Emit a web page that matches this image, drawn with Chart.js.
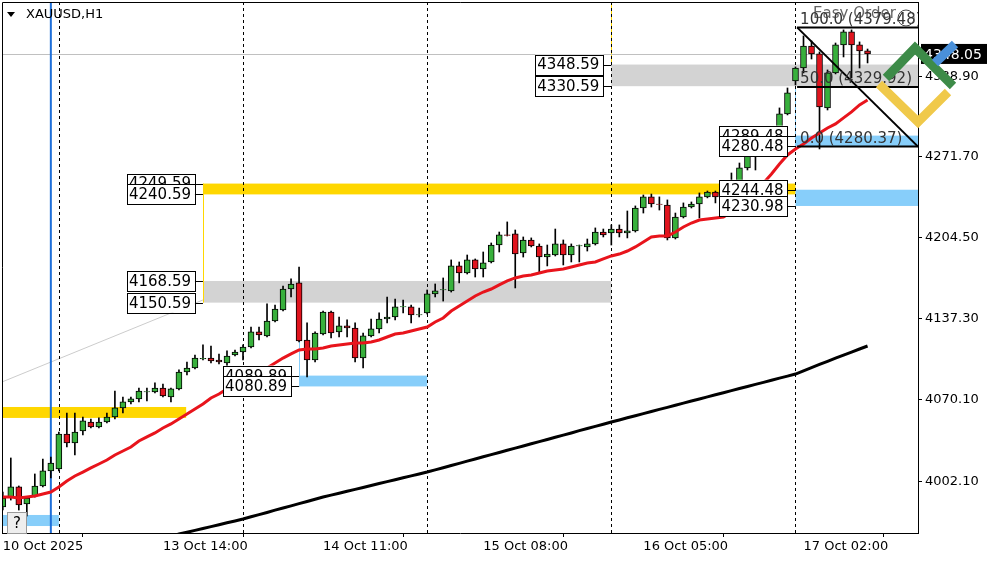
<!DOCTYPE html>
<html>
<head>
<meta charset="utf-8">
<script src="https://cdn.jsdelivr.net/npm/chart.js@4"></script>
<style>
  html, body { margin: 0; padding: 0; background: #fff; }
  #wrap { width: 1000px; height: 562px; position: relative; }
</style>
</head>
<body>
<div id="wrap"><canvas id="c"></canvas></div>
<script>
// XAUUSD H1 candles, bar index 0..108
const opens  = [3980.6,3988.9,3997.3,3983.1,3989.8,3998.1,4010.6,4012.2,4041.3,4033.9,4043.8,4051.3,4047.2,4051.3,4055.5,4063.0,4068.0,4070.5,4076.3,4076.3,
  4079.6,4072.1,4078.8,4092.9,4096.2,4103.7,4104.5,4102.9,4100.4,4107.0,4109.5,4113.7,4126.2,4122.9,4135.3,4144.5,4161.9,4167.0,4119.5,4102.9,
  4124.5,4142.8,4126.2,4131.2,4129.5,4104.5,4122.9,4128.7,4137.0,4138.6,4147.0,4147.0,4140.3,4142.0,4157.8,4161.1,4160.3,4181.1,4175.2,4186.1,
  4178.6,4184.4,4198.5,4206.9,4207.7,4191.9,4202.7,4197.7,4188.5,4190.2,4199.4,4190.2,4197.7,4196.9,4199.4,4209.3,4208.5,4211.8,4208.5,4210.2,
  4229.3,4238.5,4232.6,4231.8,4204.4,4221.8,4230.1,4232.6,4238.5,4242.6,4234.3,4234.3,4245.1,4262.6,4273.4,4282.5,4292.5,4288.4,4307.5,4334.9,
  4345.7,4364.0,4357.4,4312.5,4341.6,4364.9,4375.7,4364.9,4359.9];
const highs  = [3993.1,4021.4,3998.1,3988.9,4008.1,4020.5,4022.2,4043.0,4058.8,4058.8,4055.5,4053.8,4054.7,4058.8,4077.1,4072.1,4072.1,4079.6,4079.6,4083.8,
  4082.9,4079.6,4094.6,4101.2,4107.0,4115.4,4114.5,4107.9,4110.4,4111.2,4115.4,4130.3,4130.3,4149.5,4148.6,4164.4,4170.3,4180.2,4133.7,4126.2,
  4143.6,4143.6,4138.6,4136.2,4133.7,4125.3,4137.0,4142.0,4155.3,4153.6,4152.8,4148.6,4146.1,4161.1,4166.1,4171.1,4186.1,4184.4,4190.2,4186.9,
  4192.7,4200.2,4209.3,4217.7,4211.0,4205.2,4204.4,4199.4,4198.5,4211.8,4202.7,4199.4,4198.5,4203.5,4212.7,4211.8,4215.2,4215.2,4226.8,4231.0,
  4240.1,4240.9,4238.5,4236.0,4225.1,4233.5,4234.3,4241.8,4243.4,4243.4,4244.3,4258.4,4266.7,4275.9,4285.9,4295.8,4293.3,4312.5,4329.1,4346.6,
  4372.4,4368.2,4359.1,4344.1,4366.5,4377.4,4377.4,4367.4,4361.5];
const lows   = [3978.1,3986.4,3978.1,3973.1,3988.9,3997.3,4004.8,4010.6,4030.5,4023.9,4040.5,4046.4,4046.4,4050.5,4053.8,4058.8,4066.3,4068.0,4068.8,4075.4,
  4072.1,4068.0,4078.0,4090.4,4095.4,4102.9,4100.4,4099.6,4097.1,4106.2,4102.9,4112.9,4119.5,4122.0,4134.5,4143.6,4155.3,4118.0,4088.7,4101.2,
  4123.7,4121.2,4122.0,4122.0,4101.2,4096.2,4122.0,4125.3,4133.7,4136.2,4142.0,4133.7,4138.6,4141.1,4155.3,4151.9,4159.4,4167.0,4174.4,4171.9,
  4171.9,4183.6,4192.7,4206.0,4162.8,4188.5,4196.9,4176.1,4181.1,4189.4,4181.9,4184.4,4184.4,4193.5,4198.5,4205.2,4198.5,4205.2,4204.4,4209.3,
  4225.1,4230.1,4227.6,4202.7,4203.5,4221.0,4229.3,4221.0,4237.7,4233.5,4231.8,4233.5,4244.3,4260.9,4260.9,4281.7,4285.9,4287.5,4306.7,4331.6,
  4341.6,4353.2,4278.4,4310.8,4340.8,4354.9,4337.4,4345.7,4349.9];
const closes = [3988.1,3997.3,3982.3,3988.1,3998.1,4010.6,4017.2,4041.3,4033.9,4043.0,4052.2,4047.2,4051.3,4055.5,4063.0,4068.0,4070.5,4077.1,4076.7,4079.6,
  4073.0,4078.8,4092.9,4096.2,4104.5,4104.2,4102.1,4101.2,4106.2,4109.5,4113.7,4126.2,4123.7,4135.3,4145.3,4161.9,4166.1,4118.7,4102.9,4125.3,
  4142.8,4125.3,4131.2,4129.5,4104.5,4122.9,4128.7,4137.0,4138.6,4147.0,4147.4,4140.3,4140.7,4157.8,4160.3,4161.5,4181.1,4175.2,4186.1,4178.6,
  4183.6,4198.5,4206.9,4206.5,4191.0,4202.7,4197.7,4188.5,4191.0,4199.4,4190.2,4197.7,4198.0,4199.4,4209.3,4206.9,4211.8,4208.5,4210.2,4229.3,
  4238.5,4232.6,4232.2,4204.4,4221.8,4230.1,4232.6,4238.5,4242.6,4238.5,4241.8,4245.1,4262.6,4273.4,4282.5,4292.5,4288.4,4307.5,4325.0,4345.7,
  4364.0,4357.4,4313.3,4341.6,4364.9,4375.7,4364.9,4359.9,4357.4];

// fast moving average (red), one value per bar
const maFast = [3988.9,3988.9,3988.1,3988.9,3989.8,3991.4,3993.1,3997.3,4002.3,4006.4,4009.7,4013.1,4016.4,4019.7,4023.9,4027.2,4030.5,4035.5,4038.9,4042.2,
  4046.3,4049.7,4053.8,4058.0,4062.1,4066.3,4071.3,4074.6,4078.8,4081.3,4082.1,4087.9,4092.1,4096.2,4100.4,4104.5,4107.9,4111.2,4112.0,4112.0,
  4112.9,4114.5,4115.4,4116.2,4117.0,4117.0,4117.9,4119.5,4122.0,4124.5,4125.3,4127.0,4128.7,4130.3,4134.5,4137.8,4143.6,4147.8,4151.9,4156.1,
  4159.4,4161.9,4165.3,4168.6,4171.1,4172.7,4173.6,4175.2,4176.9,4177.7,4178.6,4180.2,4181.9,4183.6,4184.4,4186.9,4189.4,4191.0,4193.5,4196.9,
  4201.0,4205.2,4206.0,4206.0,4209.3,4213.5,4216.8,4219.3,4220.2,4221.0,4221.8,4226.0,4231.0,4236.0,4242.6,4250.1,4257.6,4265.9,4273.4,4278.4,
  4282.5,4287.5,4291.7,4295.8,4299.2,4304.2,4309.2,4315.0,4319.1];
// slow moving average (black), starts at bar 21
const maSlowStart = 21;
const maSlow = [3956.5,3958.1,3959.6,3961.2,3962.8,3964.3,3965.9,3967.5,3969.0,3970.6,3972.5,3974.3,3976.1,3978.0,3979.8,3981.6,3983.4,3985.2,3987.1,3988.9,
  3990.5,3992.1,3993.7,3995.3,3996.9,3998.5,4000.1,4001.7,4003.3,4004.9,4006.5,4008.1,4009.7,4011.5,4013.3,4015.1,4016.9,4018.8,4020.6,4022.4,
  4024.2,4026.0,4027.8,4029.6,4031.4,4033.2,4035.0,4036.8,4038.6,4040.4,4042.2,4044.1,4045.9,4047.7,4049.5,4051.3,4053.0,4054.8,4056.5,4058.3,
  4060.0,4061.8,4063.5,4065.3,4067.0,4068.8,4070.5,4072.2,4074.0,4075.7,4077.4,4079.2,4080.9,4082.6,4084.3,4086.0,4087.8,4089.5,4091.2,4093.9,
  4096.5,4099.2,4101.8,4104.5,4107.0,4109.5,4112.0,4114.5];

const priceTicks = [4002.10, 4070.10, 4137.30, 4204.50, 4271.70, 4338.90];
const timeTickBars = [0, 20, 40, 60, 80, 100];
const timeTickLabels = ['10 Oct 2025', '13 Oct 14:00', '14 Oct 11:00', '15 Oct 08:00', '16 Oct 05:00', '17 Oct 02:00'];
const daySeparators = [7, 30, 53, 76, 99];
const lastBar = 114.3;
const currentPrice = 4357.4;
const currentPriceText = '4348.05';

// zones: bar range and price range
const zones = [
  { from: -0.1, to: 22.9, top: 4063.8, bottom: 4054.7, color: '#ffd700' },
  { from: -0.1, to: 7,    top: 3974.0, bottom: 3964.8, color: '#87cefa' },
  { from: 25,   to: 99,   top: 4249.59, bottom: 4240.59, color: '#ffd700' },
  { from: 25,   to: 76,   top: 4168.59, bottom: 4150.59, color: '#d3d3d3' },
  { from: 37,   to: 53,   top: 4089.89, bottom: 4080.89, color: '#87cefa' },
  { from: 76,   to: lastBar, top: 4348.59, bottom: 4330.59, color: '#d3d3d3' },
  { from: 99,   to: lastBar, top: 4244.48, bottom: 4230.98, color: '#87cefa' },
  { from: 99,   to: lastBar, top: 4289.48, bottom: 4280.48, color: '#87cefa' }
];
// price boxes: text, price, bar where the box ends
const priceBoxes = [
  { text: '4249.59', price: 4249.59, bar: 24 }, { text: '4240.59', price: 4240.59, bar: 24 },
  { text: '4168.59', price: 4168.59, bar: 24 }, { text: '4150.59', price: 4150.59, bar: 24 },
  { text: '4089.89', price: 4089.89, bar: 36 }, { text: '4080.89', price: 4080.89, bar: 36 },
  { text: '4348.59', price: 4348.59, bar: 75 }, { text: '4330.59', price: 4330.59, bar: 75 },
  { text: '4289.48', price: 4289.48, bar: 98 }, { text: '4280.48', price: 4280.48, bar: 98 },
  { text: '4244.48', price: 4244.48, bar: 98 }, { text: '4230.98', price: 4230.98, bar: 98 }
];
const fibFrom = 99.2;
const fibLevels = [
  { text: '100.0 (4379.48)', price: 4379.48 },
  { text: '50.0 (4329.92)', price: 4329.92 },
  { text: '0.0 (4280.37)', price: 4280.37 }
];

const bars = opens.map((o, i) => i);
const up = i => closes[i] >= opens[i];

const overlays = {
  id: 'overlays',
  beforeDatasetsDraw(chart) {
    const { ctx, chartArea: a, scales: { x, y } } = chart;
    ctx.save();
    ctx.beginPath(); ctx.rect(a.left, a.top, a.width, a.height); ctx.clip();
    zones.forEach(z => {
      ctx.fillStyle = z.color;
      const x0 = x.getPixelForValue(z.from), x1 = x.getPixelForValue(z.to);
      const y0 = y.getPixelForValue(z.top), y1 = y.getPixelForValue(z.bottom);
      ctx.fillRect(x0, y0, x1 - x0, y1 - y0);
    });
    // vertical connectors
    const vline = (bar, p0, p1, color, w) => {
      ctx.strokeStyle = color; ctx.lineWidth = w || 1;
      ctx.beginPath();
      const xx = Math.round(x.getPixelForValue(bar)) + 0.5;
      ctx.moveTo(xx, y.getPixelForValue(p0)); ctx.lineTo(xx, y.getPixelForValue(p1)); ctx.stroke();
    };
    vline(25, 4249.59, 4150.59, '#ffd700');
    vline(76, 4410, 4348.59, '#ffd700');
    vline(37, 4118, 4080.89, '#87cefa');
    vline(99, 4330, 4280.48, '#87cefa');
    // light gray trendline
    ctx.strokeStyle = '#cccccc'; ctx.lineWidth = 1;
    ctx.beginPath();
    ctx.moveTo(x.getPixelForValue(-0.1), y.getPixelForValue(4084.6));
    ctx.lineTo(x.getPixelForValue(25), y.getPixelForValue(4152.8));
    ctx.stroke();
    // current price line
    ctx.strokeStyle = '#c0c0c0';
    const yc = Math.round(y.getPixelForValue(currentPrice)) + 0.5;
    ctx.beginPath(); ctx.moveTo(a.left, yc); ctx.lineTo(a.right, yc); ctx.stroke();
    // day separators
    ctx.strokeStyle = '#000'; ctx.setLineDash([3, 3]);
    daySeparators.forEach(b => {
      const xx = Math.round(x.getPixelForValue(b)) + 0.5;
      ctx.beginPath(); ctx.moveTo(xx, a.top); ctx.lineTo(xx, a.bottom); ctx.stroke();
    });
    ctx.setLineDash([]);
    // blue vertical line
    ctx.strokeStyle = '#1e6fd9'; ctx.lineWidth = 2;
    const xb = x.getPixelForValue(6);
    ctx.beginPath(); ctx.moveTo(xb, a.top); ctx.lineTo(xb, a.bottom); ctx.stroke();
    ctx.restore();
  },
  afterDatasetsDraw(chart) {
    const { ctx, chartArea: a, scales: { x, y } } = chart;
    ctx.save();
    ctx.font = '15px "DejaVu Sans"';
    ctx.textBaseline = 'middle';
    priceBoxes.forEach(b => {
      const xr = x.getPixelForValue(b.bar), yy = y.getPixelForValue(b.price);
      const w = 68, h = 20;
      ctx.fillStyle = '#fff';
      ctx.fillRect(xr - w, yy - h / 2, w, h);
      ctx.strokeStyle = '#000'; ctx.lineWidth = 1;
      ctx.strokeRect(Math.round(xr - w) + 0.5, Math.round(yy - h / 2) + 0.5, w, h);
      ctx.beginPath(); ctx.moveTo(xr, Math.round(yy) + 0.5); ctx.lineTo(xr + 8, Math.round(yy) + 0.5); ctx.stroke();
      ctx.fillStyle = '#000'; ctx.textAlign = 'left';
      ctx.fillText(b.text, xr - w + 2, yy + 1);
    });
    // fibonacci
    ctx.save();
    ctx.beginPath(); ctx.rect(a.left, a.top, a.width, a.height); ctx.clip();
    const fx0 = x.getPixelForValue(fibFrom);
    ctx.strokeStyle = '#000'; ctx.lineWidth = 2;
    fibLevels.forEach(l => {
      const yy = y.getPixelForValue(l.price);
      ctx.beginPath(); ctx.moveTo(fx0, yy); ctx.lineTo(a.right, yy); ctx.stroke();
    });
    ctx.beginPath();
    ctx.moveTo(fx0, y.getPixelForValue(fibLevels[0].price));
    ctx.lineTo(a.right, y.getPixelForValue(fibLevels[2].price));
    ctx.stroke();
    ctx.fillStyle = '#333'; ctx.textAlign = 'left'; ctx.textBaseline = 'bottom';
    ctx.font = '15px "DejaVu Sans"';
    fibLevels.forEach(l => ctx.fillText(l.text, fx0 + 3, y.getPixelForValue(l.price)));
    ctx.fillStyle = 'rgba(60,60,60,0.8)'; ctx.textBaseline = 'top';
    ctx.fillText('Easy Order', fx0 + 16, a.top + 5);
    ctx.beginPath(); ctx.arc(a.right - 12, a.top + 16, 8, 0, Math.PI * 2); ctx.lineWidth = 1; ctx.strokeStyle = '#444'; ctx.stroke();
    ctx.restore();
    // current price tag
    const yc = y.getPixelForValue(currentPrice);
    ctx.fillStyle = '#000';
    ctx.fillRect(a.right + 3, yc - 10, 66, 20);
    ctx.fillStyle = '#fff'; ctx.font = '14px "DejaVu Sans"'; ctx.textAlign = 'left'; ctx.textBaseline = 'middle';
    ctx.fillText(currentPriceText, a.right + 6, yc + 1);
    // logo
    ctx.lineCap = 'butt'; ctx.lineWidth = 9;
    ctx.strokeStyle = '#f0c94a';
    ctx.beginPath(); ctx.moveTo(879, 84); ctx.lineTo(918, 122); ctx.lineTo(948, 92); ctx.stroke();
    ctx.strokeStyle = '#3d8b48';
    ctx.beginPath(); ctx.moveTo(886, 78); ctx.lineTo(915, 48); ctx.lineTo(953, 86); ctx.stroke();
    ctx.strokeStyle = '#4a90d9';
    ctx.beginPath(); ctx.moveTo(935, 63); ctx.lineTo(955, 44); ctx.stroke();
    // frame, title, help box
    ctx.strokeStyle = '#000'; ctx.lineWidth = 1;
    ctx.beginPath(); ctx.moveTo(a.left + 0.5, a.bottom); ctx.lineTo(a.left + 0.5, a.top + 0.5); ctx.lineTo(a.right, a.top + 0.5); ctx.stroke();
    ctx.fillStyle = '#000';
    ctx.beginPath(); ctx.moveTo(7, 12); ctx.lineTo(15, 12); ctx.lineTo(11, 17); ctx.closePath(); ctx.fill();
    ctx.font = '13px "DejaVu Sans"'; ctx.textBaseline = 'middle'; ctx.textAlign = 'left';
    ctx.fillText('XAUUSD,H1', 26, 15);
    ctx.fillStyle = '#eeeeee'; ctx.fillRect(7, 512, 19, 21);
    ctx.strokeStyle = '#999'; ctx.strokeRect(7.5, 512.5, 19, 21);
    ctx.fillStyle = '#000'; ctx.font = '15px "DejaVu Sans"'; ctx.textAlign = 'center';
    ctx.fillText('?', 17, 524);
    ctx.restore();
  }
};

new Chart(document.getElementById('c'), {
  type: 'bar',
  data: {
    datasets: [
      {
        type: 'line', label: 'MA slow', order: 0,
        data: maSlow.map((v, k) => ({ x: maSlowStart + k, y: v })),
        borderColor: '#000', borderWidth: 3, pointRadius: 0, tension: 0
      },
      {
        type: 'line', label: 'MA fast', order: 0,
        data: maFast.map((v, i) => ({ x: i, y: v })),
        borderColor: '#e8141c', borderWidth: 3, pointRadius: 0, tension: 0
      },
      {
        label: 'bodies', order: 1, grouped: false,
        data: bars.map(i => ({ x: i, y: [opens[i], closes[i]] })),
        backgroundColor: bars.map(i => up(i) ? '#38b03c' : '#e0141e'),
        borderColor: '#000', borderWidth: 1, borderSkipped: false, barThickness: 6
      },
      {
        label: 'wicks', order: 2, grouped: false,
        data: bars.map(i => ({ x: i, y: [lows[i], highs[i]] })),
        backgroundColor: '#000', borderWidth: 0, barThickness: 1
      }
    ]
  },
  options: {
    responsive: true, maintainAspectRatio: false, animation: false,
    layout: { padding: { left: 2, top: 2, right: 0, bottom: 0 } },
    plugins: { legend: { display: false }, tooltip: { enabled: false } },
    scales: {
      x: {
        type: 'linear', min: -0.1, max: lastBar, offset: false,
        afterBuildTicks: s => { s.ticks = timeTickBars.map(v => ({ value: v })); },
        afterFit: s => { s.height = 29; s.paddingLeft = 0; s.paddingRight = 0; },
        grid: { drawOnChartArea: false, tickLength: 4, color: '#000' },
        border: { color: '#000' },
        ticks: {
          color: '#000', font: { family: 'DejaVu Sans', size: 13 }, align: 'start', padding: 2,
          maxRotation: 0, autoSkip: false,
          callback: v => timeTickLabels[timeTickBars.indexOf(v)] || ''
        }
      },
      y: {
        position: 'right', min: 3959.0, max: 4400.6,
        afterBuildTicks: s => { s.ticks = priceTicks.map(v => ({ value: v })); },
        afterFit: s => { s.width = 82; s.paddingTop = 0; s.paddingBottom = 0; },
        grid: { drawOnChartArea: false, tickLength: 4, color: '#000' },
        border: { color: '#000' },
        ticks: {
          color: '#000', font: { family: 'DejaVu Sans', size: 13 }, padding: 3,
          callback: v => v.toFixed(2)
        }
      }
    }
  },
  plugins: [overlays]
});
</script>
</body>
</html>
